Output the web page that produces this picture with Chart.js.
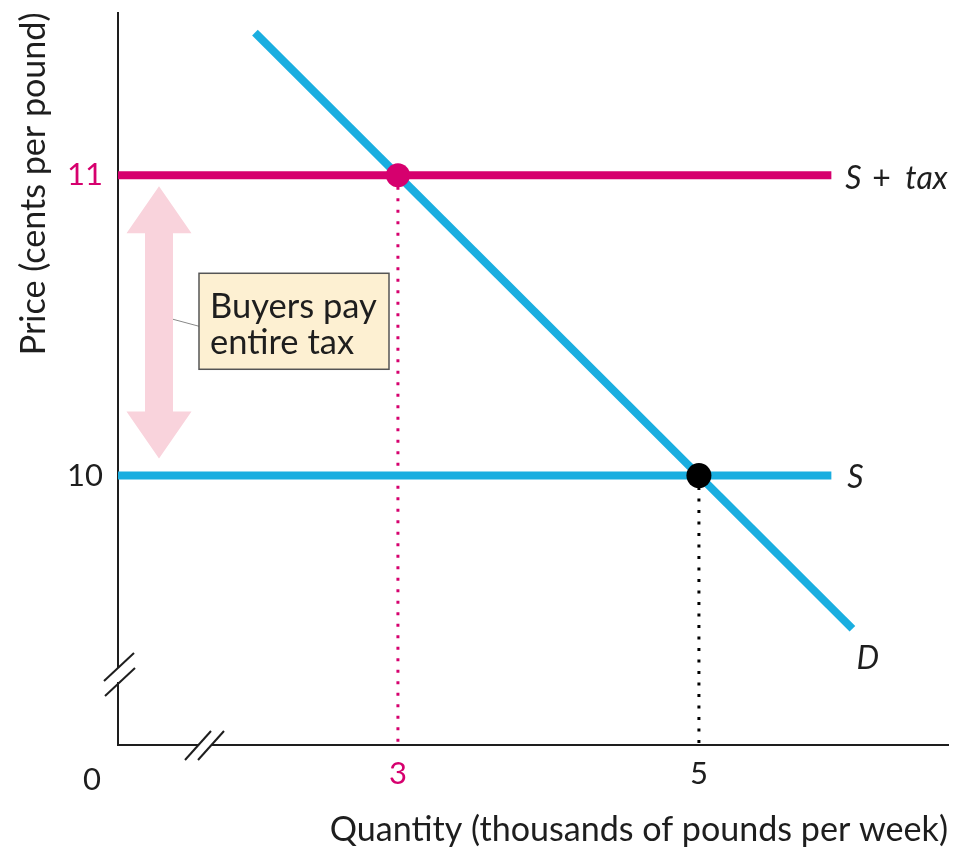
<!DOCTYPE html>
<html>
<head>
<meta charset="utf-8">
<script src="https://cdn.jsdelivr.net/npm/chart.js@4.4.1/dist/chart.umd.min.js"></script>
<style>
  html, body { margin: 0; padding: 0; background: #ffffff; }
  #wrap { width: 968px; height: 851px; position: relative; }
</style>
</head>
<body>
<div id="wrap"><canvas id="c" width="968" height="851"></canvas></div>
<script>
// ---------- data ----------
const quantityTicks = [3, 5];          // thousands of pounds per week
const priceTicks = [10, 11];           // cents per pound
const supplyPrice = 10;
const taxPrice = 11;
const supplyQ = [1.14, 5.88];          // horizontal supply lines span
const demandQ = [2.05, 6.02];
const demandP = [11.475, 9.49];
const taxEquilibrium = [3, 11];
const noTaxEquilibrium = [5, 10];
const axisRangeX = [1.14, 6.655];
const axisRangeY = [9.103, 11.542];
const boxLines = ['Buyers pay', 'entire tax'];
const xTitle = 'Quantity (thousands of pounds per week)';
const yTitle = 'Price (cents per pound)';

// ---------- styles ----------
const BLUE = '#1aaee0';
const MAGENTA = '#d6006e';
const DARK = '#1e1e1e';
const FONT = 'Lato, "Open Sans", sans-serif';

// size a font so a text spans a given width
function fitPx(text, target, style) {
  const c = document.createElement('canvas').getContext('2d');
  c.font = (style || '') + ' 100px ' + FONT;
  return Math.round(1000 * target / c.measureText(text).width) / 10;
}
const xTitlePx = fitPx(xTitle, 618);
const yTitlePx = fitPx(yTitle, 343);
const boxPx = fitPx(boxLines[0], 167);

const extras = {
  id: 'extras',
  beforeDatasetsDraw(chart) {
    const {ctx, chartArea: a, scales: {x, y}} = chart;
    const y11 = y.getPixelForValue(taxPrice);
    const y10 = y.getPixelForValue(supplyPrice);
    // double arrow
    const cx = a.left + 41;
    const top = y11 + 11, bot = y10 - 17;
    const headH = 47, headW = 32.5, shaftW = 14;
    ctx.save();
    ctx.fillStyle = '#f9d3dc';
    ctx.beginPath();
    ctx.moveTo(cx, top);
    ctx.lineTo(cx + headW, top + headH);
    ctx.lineTo(cx + shaftW, top + headH);
    ctx.lineTo(cx + shaftW, bot - headH);
    ctx.lineTo(cx + headW, bot - headH);
    ctx.lineTo(cx, bot);
    ctx.lineTo(cx - headW, bot - headH);
    ctx.lineTo(cx - shaftW, bot - headH);
    ctx.lineTo(cx - shaftW, top + headH);
    ctx.lineTo(cx - headW, top + headH);
    ctx.closePath();
    ctx.fill();
    // box
    const bx = a.left + 81, by = y11 + 98, bw = 190, bh = 96;
    ctx.strokeStyle = '#888';
    ctx.lineWidth = 1;
    ctx.beginPath();
    ctx.moveTo(cx + shaftW, by + 46);
    ctx.lineTo(bx, by + 53);
    ctx.stroke();
    ctx.fillStyle = '#fdf0d2';
    ctx.fillRect(bx, by, bw, bh);
    ctx.strokeStyle = '#555';
    ctx.lineWidth = 1.5;
    ctx.strokeRect(bx, by, bw, bh);
    ctx.fillStyle = DARK;
    ctx.font = boxPx + 'px ' + FONT;
    ctx.textAlign = 'left';
    ctx.textBaseline = 'alphabetic';
    ctx.fillText(boxLines[0], bx + 11, by + 45);
    ctx.fillText(boxLines[1], bx + 11, by + 81);
    ctx.restore();
  },
  afterDraw(chart) {
    const {ctx, chartArea: a, scales: {x, y}} = chart;
    ctx.save();
    // axis breaks
    ctx.fillStyle = '#fff';
    ctx.fillRect(a.left - 3, a.bottom - 77, 6, 14);
    ctx.fillRect(a.left + 81, a.bottom - 3, 12, 6);
    ctx.strokeStyle = DARK;
    ctx.lineWidth = 2;
    [[a.left + 1, a.bottom - 78], [a.left + 2, a.bottom - 63]].forEach(([px, py]) => {
      ctx.beginPath(); ctx.moveTo(px - 15, py + 14); ctx.lineTo(px + 15, py - 14); ctx.stroke();
    });
    [[a.left + 80, a.bottom], [a.left + 93, a.bottom]].forEach(([px, py]) => {
      ctx.beginPath(); ctx.moveTo(px - 13, py + 15); ctx.lineTo(px + 13, py - 14); ctx.stroke();
    });
    // origin label
    ctx.fillStyle = DARK;
    ctx.font = '31px ' + FONT;
    ctx.textAlign = 'center';
    ctx.textBaseline = 'alphabetic';
    ctx.fillText('0', a.left - 26, a.bottom + 45);
    // curve labels
    const xe = x.getPixelForValue(supplyQ[1]);
    const y11 = y.getPixelForValue(taxPrice);
    const y10 = y.getPixelForValue(supplyPrice);
    ctx.textAlign = 'left';
    ctx.font = 'italic 32px ' + FONT;
    ctx.fillText('S', xe + 14, y11 + 14);
    ctx.font = '32px ' + FONT;
    ctx.fillText('+', xe + 41, y11 + 14);
    ctx.font = 'italic 32px ' + FONT;
    ctx.fillText('tax', xe + 74, y11 + 14);
    ctx.fillText('S', xe + 16, y10 + 12);
    const dx = x.getPixelForValue(demandQ[1]);
    const dy = y.getPixelForValue(demandP[1]);
    ctx.fillText('D', dx + 4, dy + 40);
    ctx.restore();
  }
};

const line = (pts, color, width, extra) => Object.assign({
  data: pts, showLine: true, borderColor: color, backgroundColor: color,
  borderWidth: width, pointRadius: 0, pointHoverRadius: 0, borderCapStyle: 'butt', fill: false
}, extra || {});

const chart = new Chart(document.getElementById('c'), {
  type: 'scatter',
  data: {
    datasets: [
      { data: [{x: taxEquilibrium[0], y: taxEquilibrium[1]}], pointRadius: 12, pointBackgroundColor: MAGENTA, pointBorderWidth: 0, order: 0 },
      { data: [{x: noTaxEquilibrium[0], y: noTaxEquilibrium[1]}], pointRadius: 12.5, pointBackgroundColor: '#000', pointBorderWidth: 0, order: 0 },
      line([{x: demandQ[0], y: demandP[0]}, {x: demandQ[1], y: demandP[1]}], BLUE, 8, {order: 2}),
      line([{x: supplyQ[0], y: taxPrice}, {x: supplyQ[1], y: taxPrice}], MAGENTA, 8, {order: 3}),
      line([{x: supplyQ[0], y: supplyPrice}, {x: supplyQ[1], y: supplyPrice}], BLUE, 8, {order: 3}),
      line([{x: taxEquilibrium[0], y: taxEquilibrium[1]}, {x: taxEquilibrium[0], y: axisRangeY[0]}], MAGENTA, 3, {borderDash: [3, 8.5], order: 5}),
      line([{x: noTaxEquilibrium[0], y: noTaxEquilibrium[1]}, {x: noTaxEquilibrium[0], y: axisRangeY[0]}], '#000', 3, {borderDash: [3, 8.5], order: 5})
    ]
  },
  options: {
    responsive: false,
    animation: false,
    events: [],
    layout: { padding: { top: 9, right: 20, left: 0, bottom: 0 } },
    plugins: { legend: { display: false }, tooltip: { enabled: false } },
    scales: {
      x: {
        type: 'linear', min: axisRangeX[0], max: axisRangeX[1],
        afterBuildTicks: s => { s.ticks = quantityTicks.map(v => ({value: v})); },
        afterFit: s => { s.height = 106; s.paddingLeft = 0; s.paddingRight = 0; },
        ticks: {
          autoSkip: false, maxRotation: 0, padding: 10,
          color: c => c.tick && c.tick.value === 3 ? MAGENTA : DARK,
          font: { family: FONT, size: 31 },
          callback: v => String(v)
        },
        grid: { display: false, drawTicks: false },
        border: { display: true, color: DARK, width: 2 },
        title: { display: true, text: xTitle, align: 'end',
                 color: DARK, font: { family: FONT, size: xTitlePx }, padding: { top: 0, bottom: 1 } }
      },
      y: {
        type: 'linear', min: axisRangeY[0], max: axisRangeY[1],
        afterBuildTicks: s => { s.ticks = priceTicks.map(v => ({value: v})); },
        afterFit: s => { s.width = 118; s.paddingTop = 0; s.paddingBottom = 0; },
        ticks: {
          autoSkip: false, padding: 15,
          color: c => c.tick && c.tick.value === 11 ? MAGENTA : DARK,
          font: { family: FONT, size: 31 },
          callback: v => String(v)
        },
        grid: { display: false, drawTicks: false },
        border: { display: true, color: DARK, width: 2 },
        title: { display: true, text: yTitle, align: 'end',
                 color: DARK, font: { family: FONT, size: yTitlePx }, padding: { top: 14, bottom: 0 } }
      }
    }
  },
  plugins: [extras]
});
</script>
</body>
</html>
